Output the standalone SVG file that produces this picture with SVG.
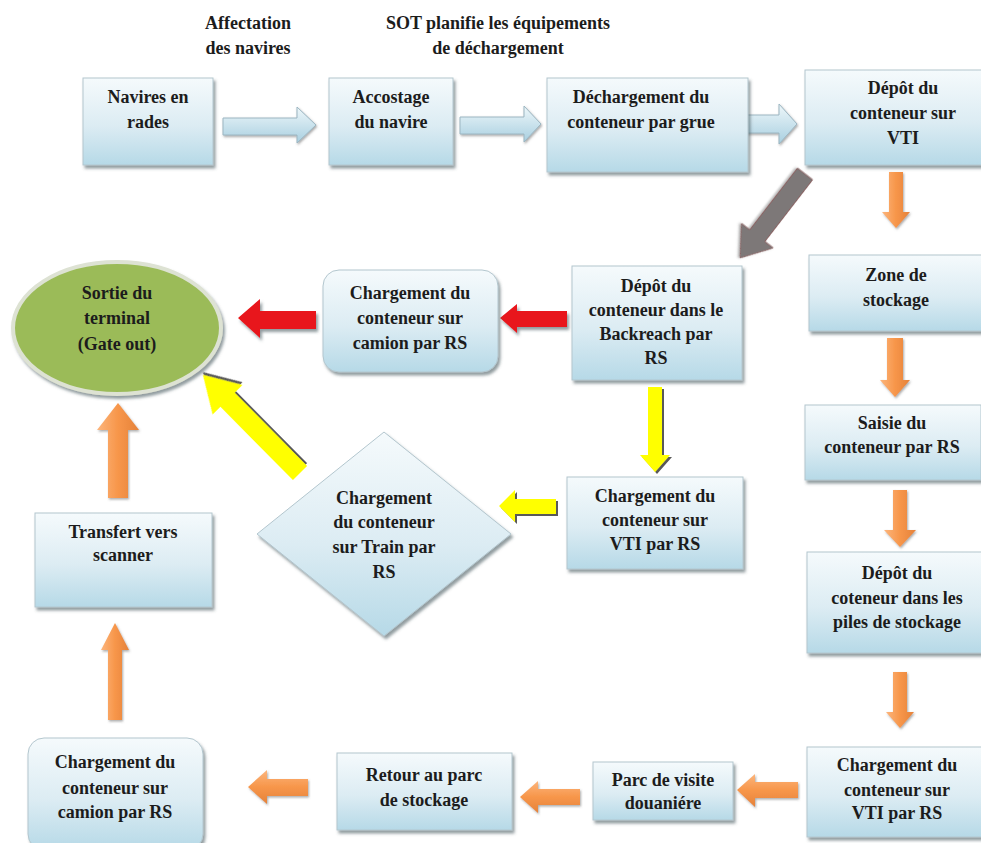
<svg xmlns="http://www.w3.org/2000/svg" width="981" height="843" viewBox="0 0 981 843">
<defs>
<style>
text{font-family:"Liberation Serif","Times New Roman",serif;font-weight:bold;font-size:18px;fill:#1c1c1c;text-anchor:middle}
.box{fill:url(#gBox);stroke:#b3c6ce;stroke-width:1;filter:url(#sh)}
.tarr{fill:url(#gTop);stroke:#9cb6c2;stroke-width:1;filter:url(#shs)}
.or{fill:url(#gOr);filter:url(#shs)}
.orh{fill:url(#gOrH);filter:url(#shs)}
.red{fill:#e8141a;filter:url(#sh)}
.yel{fill:#ffff00;filter:url(#shd)}
.gray{fill:#7d7878;stroke:#8a6565;stroke-width:1;filter:url(#shs)}
</style>
<linearGradient id="gBox" x1="0" y1="0" x2="0" y2="1">
<stop offset="0" stop-color="#f5fafc"/><stop offset="0.55" stop-color="#dcecf3"/><stop offset="1" stop-color="#b6d9e7"/>
</linearGradient>
<linearGradient id="gTop" x1="0" y1="0" x2="0" y2="1">
<stop offset="0" stop-color="#eef7fa"/><stop offset="1" stop-color="#a8cfe0"/>
</linearGradient>
<linearGradient id="gOr" x1="0" y1="0" x2="1" y2="0">
<stop offset="0" stop-color="#fcb57c"/><stop offset="0.5" stop-color="#f7964a"/><stop offset="1" stop-color="#e5823a"/>
</linearGradient>
<linearGradient id="gOrH" x1="0" y1="0" x2="0" y2="1">
<stop offset="0" stop-color="#fcb57c"/><stop offset="0.5" stop-color="#f7964a"/><stop offset="1" stop-color="#e5823a"/>
</linearGradient>
<filter id="sh" x="-10%" y="-10%" width="125%" height="130%">
<feDropShadow dx="2" dy="3" stdDeviation="1.5" flood-color="#4a5a60" flood-opacity="0.6"/>
</filter>
<filter id="shs" x="-20%" y="-20%" width="140%" height="140%">
<feDropShadow dx="1" dy="1.5" stdDeviation="1" flood-color="#555" flood-opacity="0.5"/>
</filter>
<filter id="shd" x="-20%" y="-20%" width="140%" height="140%">
<feDropShadow dx="2" dy="2" stdDeviation="0.6" flood-color="#333" flood-opacity="0.8"/>
</filter>
</defs>
<rect width="981" height="843" fill="#ffffff"/>

<g id="labels">
<text x="248" y="29">Affectation</text>
<text x="248" y="54">des navires</text>
<text x="498" y="29">SOT planifie les équipements</text>
<text x="498" y="54">de déchargement</text>
</g>

<g id="connectors">
<polygon class="tarr" points="223,118 297,118 297,107 316,125 297,143 297,135 223,135"/>
<polygon class="tarr" points="460,117 524,117 524,106 541,124 524,142 524,134 460,134"/>
<polygon class="tarr" points="745,115 779,115 779,104 797,124 779,144 779,133 745,133"/>
<polygon class="gray" transform="translate(805,174) rotate(127.7)" points="0,-9.5 78,-9.5 78,-20 106,0 78,20 78,9.5 0,9.5"/>
<polygon class="or" points="889,172 903,172 903,212 910,212 896,228 882,212 889,212"/>
<polygon class="or" points="887,338 903,338 903,380 910,380 895,397 880,380 887,380"/>
<polygon class="or" points="893,490 907,490 907,530 916,530 900,547 884,530 893,530"/>
<polygon class="or" points="893,672 907,672 907,712 914,712 900,728 886,712 893,712"/>
<polygon class="orh" points="798,782 755,782 755,774 737,790 755,807 755,798 798,798"/>
<polygon class="orh" points="580,789 538,789 538,781 520,797 538,813 538,805 580,805"/>
<polygon class="orh" points="308,779 267,779 267,770 248,787 267,804 267,796 308,796"/>
<polygon class="or" points="108,498 108,430 97,430 118,403 139,430 128,430 128,498"/>
<polygon class="or" points="108,720 108,650 101,650 115,623 129,650 122,650 122,720"/>
<polygon class="red" points="567,311 517,311 517,304 500,318 517,333 517,327 567,327"/>
<polygon class="red" points="316,311 260,311 260,299 238,318 260,338 260,329 316,329"/>
<polygon class="yel" points="648,387 662,387 662,455 670,455 655,472 640,455 648,455"/>
<polygon class="yel" points="556,499 515,499 515,490 499,506 515,522 515,514 556,514"/>
<polygon class="yel" transform="translate(300,473) rotate(-134.7)" points="0,-10 103,-10 103,-21 138,0 103,21 103,10 0,10"/>
</g>

<g id="n-navires">
<rect class="box" x="83" y="78" width="130" height="87"/>
<text x="148" y="103">Navires en</text>
<text x="148" y="128">rades</text>
</g>
<g id="n-accostage">
<rect class="box" x="329" y="78" width="124" height="87"/>
<text x="391" y="103">Accostage</text>
<text x="391" y="128">du navire</text>
</g>
<g id="n-dechargement">
<rect class="box" x="547" y="78" width="201" height="94"/>
<text x="641" y="103">Déchargement du</text>
<text x="641" y="128">conteneur par grue</text>
</g>
<g id="n-depot-vti">
<rect class="box" x="805" y="70" width="196" height="95"/>
<text x="903" y="94">Dépôt du</text>
<text x="903" y="119">conteneur sur</text>
<text x="903" y="144">VTI</text>
</g>
<g id="n-zone">
<rect class="box" x="809" y="255" width="176" height="76"/>
<text x="896" y="281">Zone de</text>
<text x="896" y="306">stockage</text>
</g>
<g id="n-saisie">
<rect class="box" x="805" y="405" width="176" height="75"/>
<text x="892" y="429">Saisie du</text>
<text x="892" y="453">conteneur par RS</text>
</g>
<g id="n-piles">
<rect class="box" x="807" y="552" width="180" height="101"/>
<text x="897" y="579">Dépôt du</text>
<text x="897" y="604">coteneur dans les</text>
<text x="897" y="628">piles de stockage</text>
</g>
<g id="n-vti-bas">
<rect class="box" x="807" y="747" width="180" height="90"/>
<text x="897" y="771">Chargement du</text>
<text x="897" y="796">conteneur sur</text>
<text x="897" y="819">VTI par RS</text>
</g>
<g id="n-parc">
<rect class="box" x="593" y="762" width="140" height="58"/>
<text x="663" y="786">Parc de visite</text>
<text x="663" y="809">douaniére</text>
</g>
<g id="n-retour">
<rect class="box" x="337" y="753" width="175" height="77"/>
<text x="424" y="781">Retour au parc</text>
<text x="424" y="806">de stockage</text>
</g>
<g id="n-camion-bas">
<rect class="box" x="28" y="738" width="175" height="112" rx="16"/>
<text x="115" y="768">Chargement du</text>
<text x="115" y="794">conteneur sur</text>
<text x="115" y="818">camion par RS</text>
</g>
<g id="n-transfert">
<rect class="box" x="35" y="513" width="177" height="94"/>
<text x="123" y="538">Transfert vers</text>
<text x="123" y="561">scanner</text>
</g>
<g id="n-backreach">
<rect class="box" x="572" y="266" width="170" height="114"/>
<text x="656" y="292">Dépôt du</text>
<text x="656" y="316">conteneur dans le</text>
<text x="656" y="340">Backreach par</text>
<text x="656" y="364">RS</text>
</g>
<g id="n-camion-haut">
<rect class="box" x="323" y="270" width="175" height="102" rx="16"/>
<text x="410" y="299">Chargement du</text>
<text x="410" y="324">conteneur sur</text>
<text x="410" y="349">camion par RS</text>
</g>
<g id="n-vti-milieu">
<rect class="box" x="567" y="477" width="176" height="92"/>
<text x="655" y="502">Chargement du</text>
<text x="655" y="526">conteneur sur</text>
<text x="655" y="550">VTI par RS</text>
</g>
<g id="n-train">
<polygon class="box" points="384,432 511,534 384,636 257,534"/>
<text x="384" y="504">Chargement</text>
<text x="384" y="528">du conteneur</text>
<text x="384" y="553">sur Train par</text>
<text x="384" y="578">RS</text>
</g>
<g id="n-sortie">
<ellipse cx="117" cy="328" rx="104" ry="66" fill="#9bbb59" stroke="#dde2d3" stroke-width="4" filter="url(#sh)"/>
<text x="117" y="299">Sortie du</text>
<text x="117" y="324">terminal</text>
<text x="117" y="350">(Gate out)</text>
</g>
</svg>
